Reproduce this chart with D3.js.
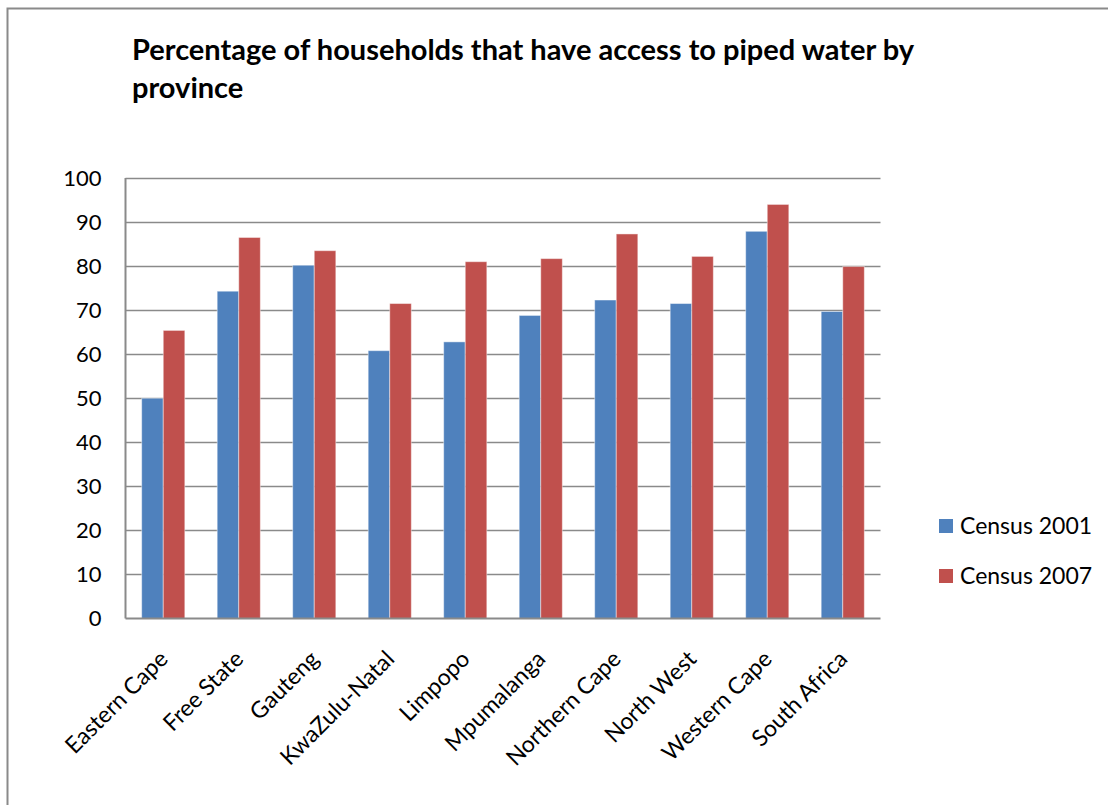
<!DOCTYPE html>
<html>
<head>
<meta charset="utf-8">
<script src="https://cdn.jsdelivr.net/npm/d3@7"></script>
<style>
  html, body { margin: 0; padding: 0; background: #fff; }
  svg { display: block; }
  text { font-family: "Lato", "Open Sans", "Liberation Sans", sans-serif; fill: #000; }
</style>
</head>
<body>
<svg id="chart" width="1108" height="805"></svg>
<script>
// Provinces along the x axis
const provinces = ["Eastern Cape", "Free State", "Gauteng", "KwaZulu-Natal", "Limpopo",
  "Mpumalanga", "Northern Cape", "North West", "Western Cape", "South Africa"];
// Share of households with piped water (%)
const census2001 = [50.0, 74.3, 80.2, 60.8, 62.8, 68.8, 72.3, 71.5, 87.9, 69.7];
const census2007 = [65.4, 86.5, 83.5, 71.5, 81.0, 81.7, 87.3, 82.2, 94.0, 79.9];
const seriesNames = ["Census 2001", "Census 2007"];
const yTicks = [0, 10, 20, 30, 40, 50, 60, 70, 80, 90, 100];
const titleLines = ["Percentage of households that have access to piped water by", "province"];

const colors = ["#4F81BD", "#C0504D"];
const gridColor = "#8a8a8a";

const svg = d3.select("#chart");

// chart area border (runs off the right and bottom edges)
svg.append("rect")
  .attr("x", 7.5).attr("y", 8.5)
  .attr("width", 1200).attr("height", 900)
  .attr("fill", "none").attr("stroke", "#8a8a8a").attr("stroke-width", 2);

// title
const title = svg.append("text")
  .attr("x", 132)
  .attr("font-weight", "bold")
  .attr("font-size", 29);
title.selectAll("tspan").data(titleLines).join("tspan")
  .attr("x", 132)
  .attr("y", (d, i) => 60 + i * 38)
  .text(d => d);

const plot = { left: 125.5, right: 880.5, top: 178, bottom: 618.5 };

const x0 = d3.scaleBand().domain(provinces).range([plot.left, plot.right]).paddingInner(0).paddingOuter(0);
// gap width 150% of a bar: two bars + 1.5 gap per category
const x1 = d3.scaleBand().domain(seriesNames)
  .range([0, x0.bandwidth() * 2 / 3.5]);
const y = d3.scaleLinear().domain([0, 100]).range([plot.bottom, plot.top]);

// horizontal gridlines
svg.append("g").selectAll("line").data(yTicks.filter(t => t > 0)).join("line")
  .attr("x1", plot.left).attr("x2", plot.right)
  .attr("y1", d => Math.round(y(d)) + 0.5).attr("y2", d => Math.round(y(d)) + 0.5)
  .attr("stroke", gridColor).attr("stroke-width", 1.6);

// y axis labels
const yAxis = d3.axisLeft(y).tickValues(yTicks).tickSize(0).tickPadding(24);
const gy = svg.append("g").attr("transform", `translate(${plot.left},0)`).call(yAxis);
gy.select(".domain").remove();
gy.selectAll("text")
  .attr("font-size", 22)
  .attr("font-family", "Lato, 'Open Sans', sans-serif")
  .attr("fill", "#000");

// bars
const table = provinces.map((p, i) => ({ province: p, values: [census2001[i], census2007[i]] }));
const groups = svg.append("g").selectAll("g").data(table).join("g")
  .attr("transform", d => `translate(${x0(d.province) + (x0.bandwidth() - x1.range()[1]) / 2},0)`);
groups.selectAll("rect").data(d => d.values.map((v, k) => ({ k, v }))).join("rect")
  .attr("x", d => x1(seriesNames[d.k]))
  .attr("y", d => y(d.v))
  .attr("width", x1.bandwidth())
  .attr("height", d => y(0) - y(d.v))
  .attr("fill", d => colors[d.k])
  .attr("stroke", "rgba(255,255,255,0.45)")
  .attr("stroke-width", 1);

// axis lines
svg.append("line")
  .attr("x1", plot.left).attr("x2", plot.left)
  .attr("y1", plot.top).attr("y2", plot.bottom)
  .attr("stroke", gridColor).attr("stroke-width", 2);
svg.append("line")
  .attr("x1", plot.left).attr("x2", plot.right)
  .attr("y1", plot.bottom).attr("y2", plot.bottom)
  .attr("stroke", gridColor).attr("stroke-width", 2);

// rotated category labels
const xAxis = d3.axisBottom(x0).tickSize(0).tickPadding(0);
const gx = svg.append("g").attr("transform", `translate(0,${plot.bottom})`).call(xAxis);
gx.select(".domain").remove();
gx.selectAll("text")
  .attr("font-size", 23)
  .attr("font-family", "Lato, 'Open Sans', sans-serif")
  .attr("fill", "#000")
  .attr("text-anchor", "end")
  .attr("dy", 0)
  .attr("y", 0)
  .attr("transform", "translate(6,42) rotate(-45)");

// legend
const legend = svg.append("g").attr("transform", "translate(939,519)");
const items = legend.selectAll("g").data(seriesNames).join("g")
  .attr("transform", (d, i) => `translate(0,${i * 50})`);
items.append("rect").attr("width", 14).attr("height", 14).attr("fill", (d, i) => colors[i]);
items.append("text").attr("x", 21).attr("y", 15)
  .attr("font-size", 23)
  .text(d => d);
</script>
</body>
</html>
